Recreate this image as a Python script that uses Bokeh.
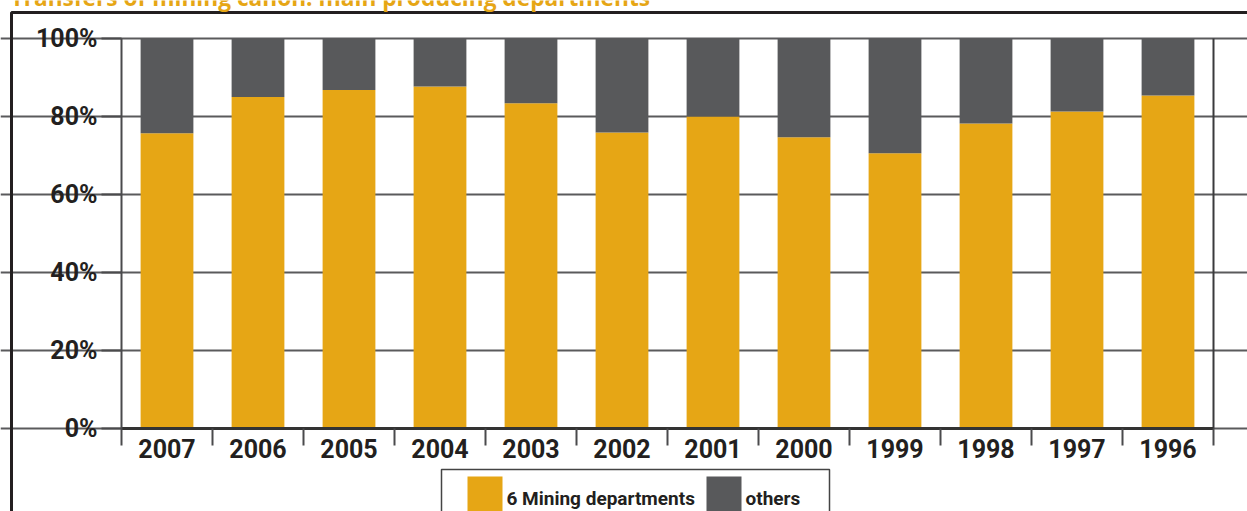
from bokeh.plotting import figure
from bokeh.models import (Range1d, FixedTicker, CustomJSTickFormatter, PrintfTickFormatter,
                          BoxAnnotation, Label)
from bokeh.embed import file_html
from bokeh.resources import INLINE

# Share of mining canon transfers (%), by year
years = ["2007", "2006", "2005", "2004", "2003", "2002",
         "2001", "2000", "1999", "1998", "1997", "1996"]
mining_six = [75.7, 85.0, 86.8, 87.7, 83.4, 75.9, 80.0, 74.7, 70.6, 78.2, 81.3, 85.4]
others = [round(100 - v, 1) for v in mining_six]
y_ticks = [0, 20, 40, 60, 80, 100]

ORANGE = "#E6A615"
GREY = "#58595B"
INK = "#231F20"
RULE = "#4a4a4c"
FONT = "Roboto"

# canvas size and where the plotting area sits inside it (pixels)
W, H = 1247, 511
AREA_L, AREA_R, AREA_T, AREA_B = 121, 1213, 38, 428

n = len(years)
px_x = (AREA_R - AREA_L) / n          # pixels per category
px_y = (AREA_B - AREA_T) / 100.0      # pixels per percent

# the frame fills the whole canvas; axes are pinned inside it
x_range = Range1d(-AREA_L / px_x, n + (W - AREA_R) / px_x)
y_range = Range1d(-(H - AREA_B) / px_y, 100 + AREA_T / px_y)

p = figure(width=W, height=H, output_backend="svg", toolbar_location=None,
           x_range=x_range, y_range=y_range,
           min_border_left=0, min_border_right=0, min_border_top=0, min_border_bottom=0)
p.outline_line_color = None
p.background_fill_color = "white"
p.border_fill_color = "white"

src = dict(x=[i + 0.5 for i in range(n)], mining=mining_six, others=others)
p.vbar_stack(["mining", "others"], x="x", width=0.58, source=src,
             color=[ORANGE, GREY], line_color=None)

# right edge of the plotting area
p.segment(x0=[n], y0=[0], x1=[n], y1=[100], line_color="#3a3a3c", line_width=2)


def sx(cx):
    return cx


def sy(cy):
    return H - cy


def screen_box(left, right, top, bottom, **kw):
    return BoxAnnotation(left=sx(left), right=sx(right), top=sy(top), bottom=sy(bottom),
                         left_units="screen", right_units="screen",
                         top_units="screen", bottom_units="screen", **kw)


# y axis
ya = p.yaxis[0]
ya.fixed_location = 0
ya.bounds = (0, 100)
ya.ticker = FixedTicker(ticks=y_ticks)
ya.formatter = PrintfTickFormatter(format="%d%%")
ya.major_tick_out = 20
ya.major_tick_in = 0
ya.minor_tick_out = 0
ya.minor_tick_in = 0
ya.major_tick_line_color = RULE
ya.major_tick_line_width = 2
ya.axis_line_color = RULE
ya.axis_line_width = 2
ya.major_label_standoff = 4
ya.major_label_text_font = FONT
ya.major_label_text_font_style = "bold"
ya.major_label_text_font_size = "25px"
ya.major_label_text_color = INK

# x axis: labels at bar centres, ticks at category boundaries
xa = p.xaxis[0]
xa.fixed_location = 0
xa.bounds = (0, n)
xa.ticker = FixedTicker(ticks=[i + 0.5 for i in range(n)],
                        minor_ticks=list(range(n + 1)))
xa.formatter = CustomJSTickFormatter(args=dict(years=years),
                                     code="return years[Math.floor(tick)]")
xa.major_tick_out = 0
xa.major_tick_in = 0
xa.minor_tick_out = 17
xa.minor_tick_in = 0
xa.minor_tick_line_color = RULE
xa.minor_tick_line_width = 2
xa.axis_line_color = "#333333"
xa.axis_line_width = 3
xa.major_label_standoff = -7
xa.major_label_text_font = FONT
xa.major_label_text_font_style = "bold"
xa.major_label_text_font_size = "25px"
xa.major_label_text_color = INK

p.xgrid.grid_line_color = None
p.ygrid.grid_line_color = "#5a5a5c"
p.ygrid.grid_line_width = 2
p.ygrid.bounds = (0, n)

# outer frame of the panel
p.add_layout(screen_box(11, 1320, 12, 620, fill_color=None, fill_alpha=0,
                        line_color=INK, line_alpha=1, line_width=3))

# title
p.add_layout(Label(x=sx(10), y=sy(-3), x_units="screen", y_units="screen",
                   text="Transfers of mining canon: main producing departments",
                   text_font="Open Sans", text_font_style="bold", text_font_size="22.7px",
                   text_color=ORANGE, text_baseline="middle"))

# legend
p.add_layout(screen_box(441, 829, 469, 560, fill_color="white", fill_alpha=1,
                        line_color="#444444", line_alpha=1, line_width=1.5))
legend_items = [("6 Mining departments", ORANGE, 467), ("others", GREY, 706)]
for name, colr, left in legend_items:
    p.add_layout(screen_box(left, left + 35, 476, 560, fill_color=colr, fill_alpha=1,
                            line_color=None))
    p.add_layout(Label(x=sx(left + 39), y=sy(498), x_units="screen", y_units="screen",
                       text=name, text_font=FONT, text_font_style="bold",
                       text_font_size="19px", text_color=INK, text_baseline="middle"))

open("out.html", "w").write(file_html(p, INLINE))
